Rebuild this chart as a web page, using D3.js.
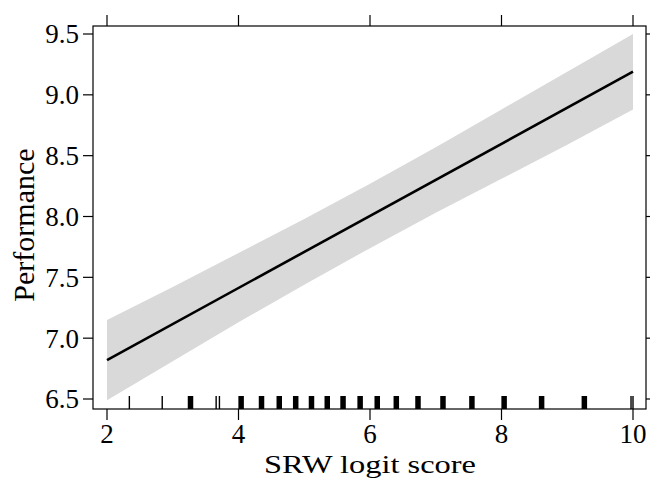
<!DOCTYPE html>
<html><head><meta charset="utf-8">
<script src="https://cdn.jsdelivr.net/npm/d3@7"></script>
<style>body{margin:0;background:#fff}svg{display:block}</style>
</head><body>
<script>
// ---- data ----
const xTicks = [2, 4, 6, 8, 10];
const yTicks = [6.5, 7.0, 7.5, 8.0, 8.5, 9.0, 9.5];
const bandX     = [2, 3, 4, 5, 6, 7, 8, 9, 10];
const bandUpper = [7.15, 7.42, 7.70, 7.98, 8.27, 8.57, 8.88, 9.19, 9.50];
const bandLower = [6.49, 6.81, 7.13, 7.44, 7.74, 8.03, 8.31, 8.59, 8.88];
const fitX = [2, 10];
const fitY = [6.82, 9.19];
const rugSingle = [2.34, 2.84, 3.66, 3.71, 9.97, 10.0];
const rugMany   = [3.27, 4.04, 4.35, 4.62, 4.87, 5.11, 5.35, 5.59, 5.85, 6.11, 6.40, 6.73, 7.11, 7.55, 8.04, 8.61, 9.26];

const W = 650, H = 479;
const L = 93, R = 646, T = 26, B = 409;
const svg = d3.select("body").append("svg").attr("width", W).attr("height", H);
const font = "'Liberation Serif', 'DejaVu Serif', serif";

const x = d3.scaleLinear().domain([2, 10]).range([107, 633]);
const y = d3.scaleLinear().domain([6.5, 9.5]).range([399, 34]);

// confidence band
const band = d3.area().x((d, i) => x(bandX[i])).y0((d, i) => y(bandLower[i])).y1((d, i) => y(bandUpper[i]));
svg.append("path").datum(bandX).attr("d", band).attr("fill", "#d9d9d9");

// fit line
const line = d3.line().x((d, i) => x(fitX[i])).y((d, i) => y(fitY[i]));
svg.append("path").datum(fitX).attr("d", line).attr("fill", "none").attr("stroke", "#000").attr("stroke-width", 2.6);

// rug
svg.append("g").selectAll("line").data(rugSingle).join("line")
  .attr("x1", d => x(d)).attr("x2", d => x(d)).attr("y1", B - 13).attr("y2", B)
  .attr("stroke", "#000").attr("stroke-width", 1.4);
svg.append("g").selectAll("line").data(rugMany).join("line")
  .attr("x1", d => x(d)).attr("x2", d => x(d)).attr("y1", B - 13).attr("y2", B)
  .attr("stroke", "#000").attr("stroke-width", 5.5);

// panel border
svg.append("rect").attr("x", L).attr("y", T).attr("width", R - L).attr("height", B - T)
  .attr("fill", "none").attr("stroke", "#000").attr("stroke-width", 1.2);

// axes (lattice style: ticks outside on all sides)
const ax = svg.append("g").attr("stroke", "#000").attr("stroke-width", 1.2);
xTicks.forEach(v => {
  ax.append("line").attr("x1", x(v)).attr("x2", x(v)).attr("y1", B).attr("y2", B + 11);
  ax.append("line").attr("x1", x(v)).attr("x2", x(v)).attr("y1", T).attr("y2", T - 11);
});
yTicks.forEach(v => {
  ax.append("line").attr("x1", L).attr("x2", L - 10).attr("y1", y(v)).attr("y2", y(v));
  ax.append("line").attr("x1", R).attr("x2", R + 10).attr("y1", y(v)).attr("y2", y(v));
});

svg.append("g").selectAll("text").data(xTicks).join("text")
  .attr("x", d => x(d)).attr("y", 443).attr("text-anchor", "middle")
  .attr("font-family", font).attr("font-size", 27).text(d => d);
svg.append("g").selectAll("text").data(yTicks).join("text")
  .attr("x", 79).attr("y", d => y(d)).attr("dy", "0.35em").attr("text-anchor", "end")
  .attr("font-family", font).attr("font-size", 27).text(d => d.toFixed(1));

svg.append("text").attr("x", 370).attr("y", 473).attr("text-anchor", "middle")
  .attr("font-family", font).attr("font-size", 26)
  .attr("textLength", 212).attr("lengthAdjust", "spacingAndGlyphs").text("SRW logit score");
svg.append("text").attr("transform", "translate(34,225) rotate(-90)")
  .attr("text-anchor", "middle").attr("font-family", font).attr("font-size", 30).text("Performance");
</script>
</body></html>
